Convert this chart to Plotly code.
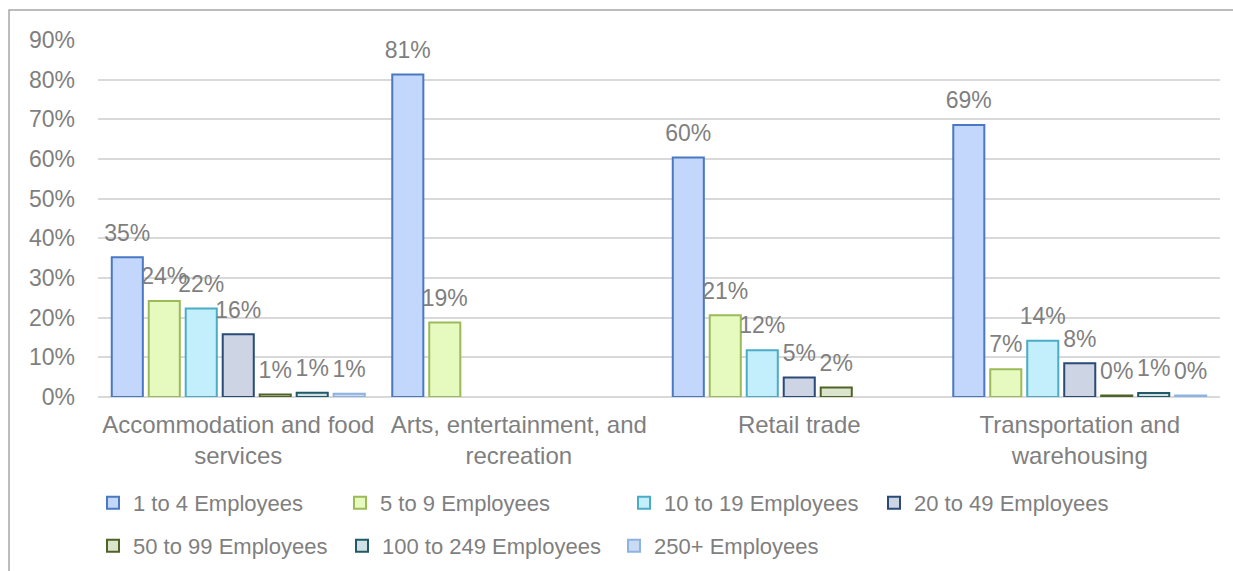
import plotly.graph_objects as go

categories = ["Accommodation and food<br>services", "Arts, entertainment, and<br>recreation",
              "Retail trade", "Transportation and<br>warehousing"]
series_names = ["1 to 4 Employees", "5 to 9 Employees", "10 to 19 Employees", "20 to 49 Employees",
                "50 to 99 Employees", "100 to 249 Employees", "250+ Employees"]
v_1_4 = [35.2, 81.3, 60.4, 68.6]
v_5_9 = [24.2, 18.8, 20.6, 7.0]
v_10_19 = [22.3, None, 11.8, 14.2]
v_20_49 = [15.8, None, 4.9, 8.5]
v_50_99 = [0.6, None, 2.4, 0.4]
v_100_249 = [1.1, None, None, 1.0]
v_250 = [0.8, None, None, 0.4]
values = [v_1_4, v_5_9, v_10_19, v_20_49, v_50_99, v_100_249, v_250]

fills = ["#c3d6fb", "#e6f9bf", "#c2effb", "#cdd4e3", "#dbe5cc", "#cfe1e4", "#c9dbf3"]
lines = ["#4a78c2", "#9bbb59", "#4bacc6", "#2a4a78", "#4f6228", "#215968", "#8db3e2"]

# legend placement (container pixels): one legend per entry to mimic the reference layout
legend_x_px = [93, 340, 624, 874, 93, 342, 614]
legend_y_px = [503, 503, 503, 503, 546, 546, 546]

txt_color = "#7f7f7f"
font_family = "Liberation Sans, Arial, sans-serif"

L, R, T, B = 98, 13, 40, 174
W, H = 1233, 571
PW, PH = W - L - R, H - T - B

fig = go.Figure()
legend_names = ["legend"] + [f"legend{i}" for i in range(2, 8)]
for i, (name, vals, fc, lc) in enumerate(zip(series_names, values, fills, lines)):
    fig.add_trace(go.Bar(
        name=name, x=categories, y=vals,
        marker=dict(color=fc, line=dict(color=lc, width=2)),
        offsetgroup=str(i), alignmentgroup="a",
        legend=legend_names[i],
        hoverinfo="skip",
    ))
for i, vals in enumerate(values):
    fig.add_trace(go.Scatter(
        x=categories, y=[0 if v is None else v for v in vals],
        mode="markers+text",
        text=[None if v is None else f"{round(v):.0f}%" for v in vals],
        textposition="top center",
        textfont=dict(size=23, color=txt_color, family=font_family),
        marker=dict(size=16, opacity=0),
        offsetgroup=str(i), alignmentgroup="a",
        showlegend=False, hoverinfo="skip", cliponaxis=False,
    ))

layout_legends = {}
for i, ln in enumerate(legend_names):
    layout_legends[ln] = dict(
        orientation="h",
        xref="container", yref="container",
        x=legend_x_px[i] / W, xanchor="left",
        y=1 - legend_y_px[i] / H, yanchor="middle",
        font=dict(size=22, color=txt_color, family=font_family),
        itemwidth=30, bgcolor="rgba(0,0,0,0)",
    )

fig.update_layout(
    width=W, height=H,
    margin=dict(l=L, r=R, t=T, b=B),
    paper_bgcolor="white", plot_bgcolor="white",
    barmode="group", bargap=0.077, bargroupgap=0.16,
    scattermode="group", scattergap=0.077,
    font=dict(family=font_family, size=22, color=txt_color),
    showlegend=True,
    xaxis=dict(showgrid=False, showline=False, ticks="", ticklabelstandoff=11,
               tickfont=dict(size=24, color=txt_color)),
    yaxis=dict(range=[0, 90], dtick=10, ticksuffix="%", showgrid=True, gridcolor="#d9d9d9",
               gridwidth=1.5, zeroline=True, zerolinecolor="#d9d9d9", zerolinewidth=1.5,
               showline=False, ticks="", ticklabelstandoff=22,
               tickfont=dict(size=23, color=txt_color)),
    shapes=[dict(type="rect", xref="paper", yref="paper",
                 x0=-0.0793, x1=1.3, y0=-0.7, y1=1.084,
                 line=dict(color="#a6a6a6", width=1.5), fillcolor="rgba(0,0,0,0)", layer="below")],
    **layout_legends,
)

fig.write_html("out.html")
